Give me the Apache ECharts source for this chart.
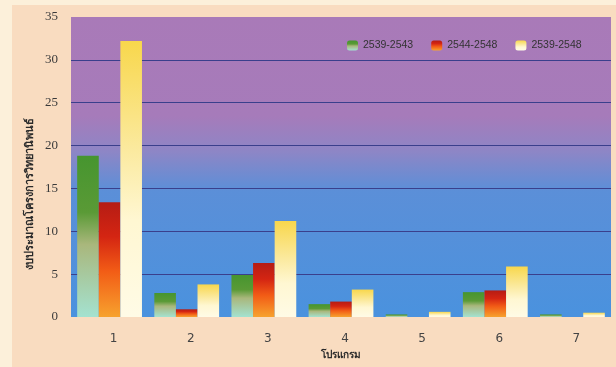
<!DOCTYPE html>
<html>
<head>
<meta charset="utf-8">
<script src="https://cdn.jsdelivr.net/npm/echarts@6/dist/echarts.min.js"></script>
<style>
  html, body { margin: 0; padding: 0; background: #fcf0da; }
  #chart { width: 616px; height: 367px; }
</style>
</head>
<body>
<div id="chart"></div>
<script>
// Programmes on the x axis
const categories = ['1', '2', '3', '4', '5', '6', '7'];
// Budget per programme for each period
const seriesNames = ['2539-2543', '2544-2548', '2539-2548'];
const values2539_2543 = [18.8, 2.8, 4.9, 1.5, 0.3, 2.9, 0.3];
const values2544_2548 = [13.4, 0.9, 6.3, 1.8, 0.0, 3.1, 0.0];
const values2539_2548 = [32.2, 3.8, 11.2, 3.2, 0.6, 5.9, 0.5];
const yTicks = [0, 5, 10, 15, 20, 25, 30, 35];

const yAxisTitle = 'งบประมาณโครงการวิทยานิพนธ์';
const xAxisTitle = 'โปรแกรม';

const G = echarts.graphic.LinearGradient;
const fills = [
  new G(0, 0, 0, 1, [
    { offset: 0, color: '#46952f' },
    { offset: 0.35, color: '#5a9a36' },
    { offset: 0.55, color: '#a9b77c' },
    { offset: 1, color: '#a4e2d0' }
  ]),
  new G(0, 0, 0, 1, [
    { offset: 0, color: '#b51c14' },
    { offset: 0.3, color: '#d42512' },
    { offset: 0.6, color: '#f25c16' },
    { offset: 1, color: '#f7a22e' }
  ]),
  new G(0, 0, 0, 1, [
    { offset: 0, color: '#f8d74c' },
    { offset: 0.4, color: '#fbeaa0' },
    { offset: 0.65, color: '#fff7d2' },
    { offset: 1, color: '#fffbe6' }
  ])
];
const dataSets = [values2539_2543, values2544_2548, values2539_2548];

// gridlines only between the bottom and top of the value range
const gridColor = '#3a3f8c';
const splitColors = yTicks.map((t, i) =>
  (i === 0 || i === yTicks.length - 1) ? 'rgba(0,0,0,0)' : gridColor);

const chart = echarts.init(document.getElementById('chart'), null, { renderer: 'canvas' });
chart.setOption({
  backgroundColor: '#fcf0da',
  animation: false,
  graphic: [
    { type: 'rect', z: -10, shape: { x: 12, y: 5, width: 604, height: 362 }, style: { fill: '#f9dcc0' } },
    {
      type: 'text', x: 30, y: 194, rotation: Math.PI / 2,
      style: {
        text: yAxisTitle, fill: '#2a2a2a',
        font: 'bold 11px "Noto Sans", sans-serif',
        textAlign: 'center', textVerticalAlign: 'middle'
      }
    }
  ],
  legend: {
    data: seriesNames,
    left: 342, top: 35,
    itemWidth: 11, itemHeight: 10, itemGap: 18,
    textStyle: { fontSize: 10.5, color: '#333', fontFamily: 'Liberation Sans' }
  },
  grid: {
    left: 71, right: 5, top: 17, bottom: 50,
    show: true, borderWidth: 0,
    backgroundColor: new G(0, 0, 0, 1, [
      { offset: 0, color: '#a97ab8' },
      { offset: 0.33, color: '#a67bba' },
      { offset: 0.45, color: '#8d86c6' },
      { offset: 0.58, color: '#5b8fd8' },
      { offset: 1, color: '#4a92de' }
    ])
  },
  xAxis: {
    type: 'category',
    data: categories,
    axisLine: { show: false },
    axisTick: { show: false },
    axisLabel: { margin: 16, fontSize: 12, color: '#444', fontFamily: 'DejaVu Sans', padding: [0, 0, 0, 8] },
    name: xAxisTitle,
    nameLocation: 'middle',
    nameGap: 33,
    nameTextStyle: { fontSize: 10, fontWeight: 'bold', color: '#2a2a2a', fontFamily: 'Noto Sans' }
  },
  yAxis: {
    type: 'value',
    min: yTicks[0], max: yTicks[yTicks.length - 1], interval: 5,
    axisLine: { show: false },
    axisTick: { show: false },
    axisLabel: { margin: 13, fontSize: 13, color: '#3a3a3a', fontFamily: 'Liberation Serif' },
    splitLine: { lineStyle: { color: splitColors, width: 1 } }
  },
  series: seriesNames.map((name, i) => ({
    name,
    type: 'bar',
    data: dataSets[i],
    barGap: '0%',
    barCategoryGap: '16%',
    itemStyle: { color: fills[i] }
  }))
});
</script>
</body>
</html>
